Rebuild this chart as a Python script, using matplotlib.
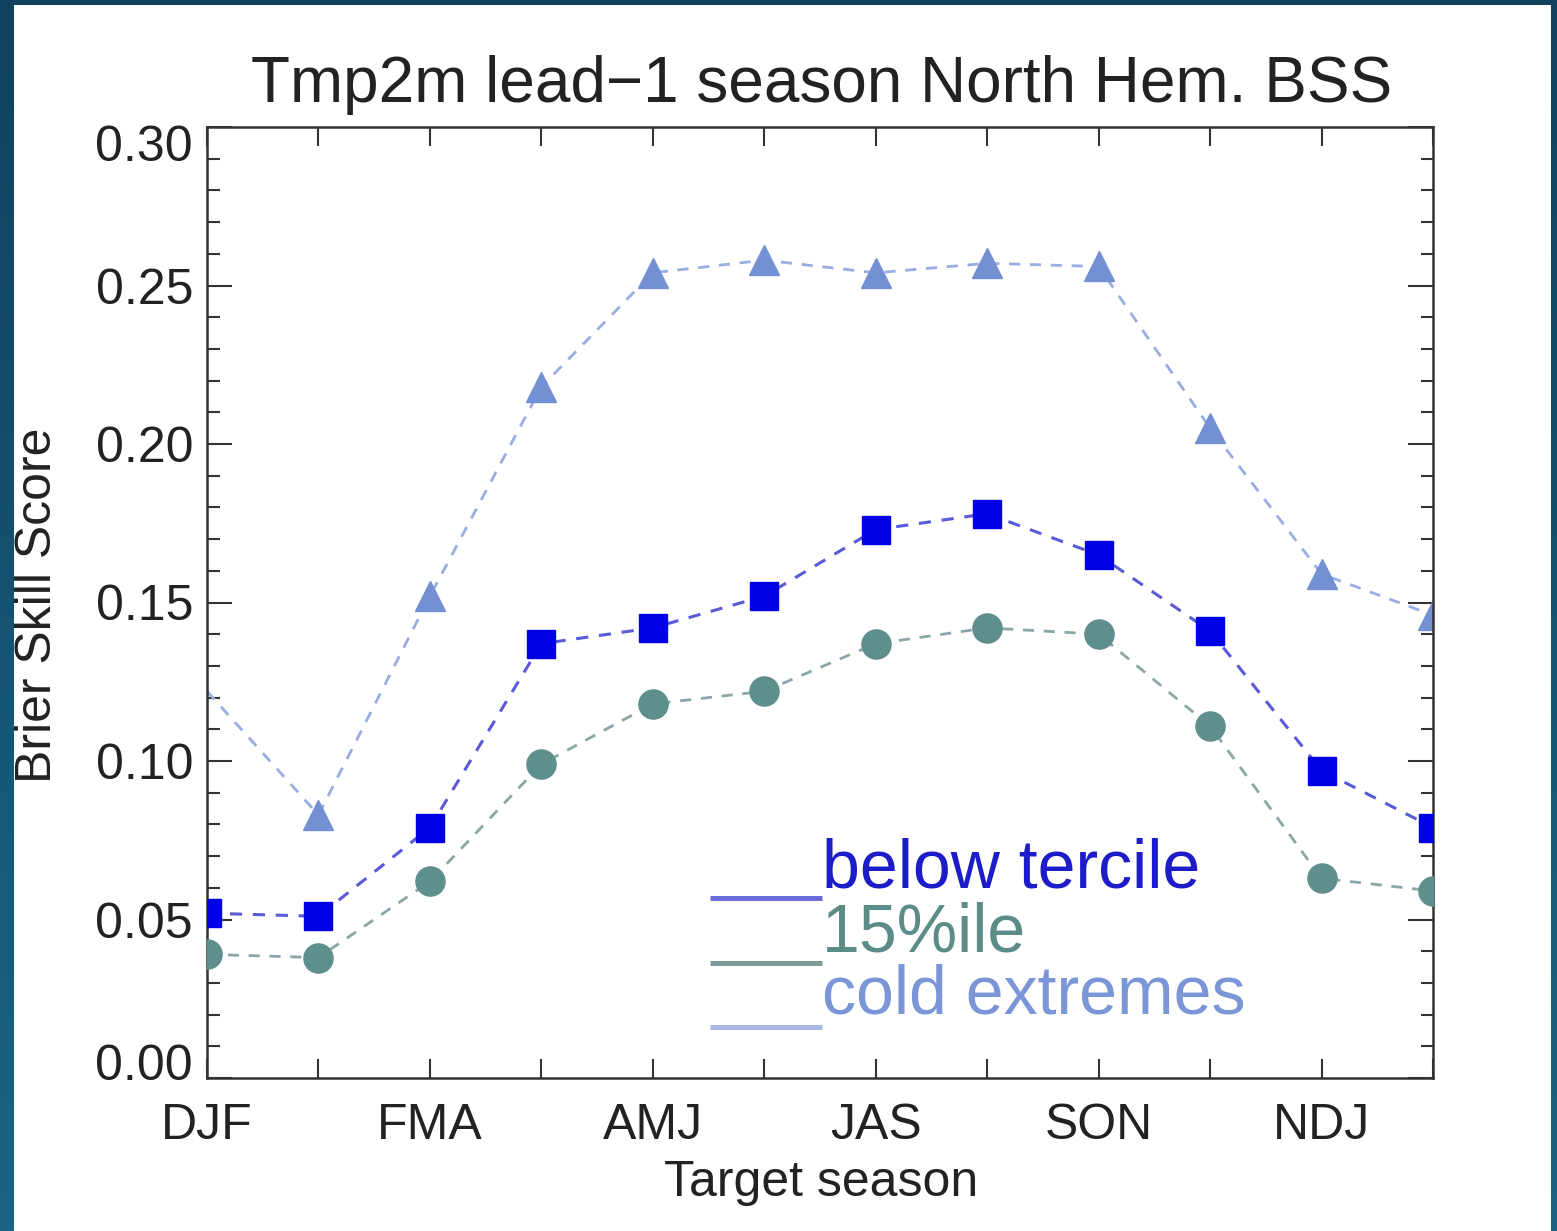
import matplotlib
matplotlib.use("Agg")
import matplotlib.pyplot as plt
import matplotlib.transforms as mtransforms
import numpy as np
from matplotlib.colors import LinearSegmentedColormap
from matplotlib.patches import Rectangle

plt.rcParams['font.family'] = ['Liberation Sans', 'DejaVu Sans']

# ---- data ----
positions = list(range(12))
tick_labels = ["DJF", "", "FMA", "", "AMJ", "", "JAS", "", "SON", "", "NDJ", ""]
below_tercile = [0.052, 0.051, 0.079, 0.137, 0.142, 0.152, 0.173, 0.178, 0.165, 0.141, 0.097, 0.079]
pct15 = [0.039, 0.038, 0.062, 0.099, 0.118, 0.122, 0.137, 0.142, 0.140, 0.111, 0.063, 0.059]
cold_extremes = [0.122, 0.083, 0.152, 0.218, 0.254, 0.258, 0.254, 0.257, 0.256, 0.205, 0.159, 0.146]
series_names = ["below tercile", "15%ile", "cold extremes"]
y_ticks = [0, 0.05, 0.10, 0.15, 0.20, 0.25, 0.30]
y_tick_labels = ["0.00", "0.05", "0.10", "0.15", "0.20", "0.25", "0.30"]

W, H = 1557, 1231
fig = plt.figure(figsize=(W / 100, H / 100), dpi=100)

# background gradient frame
bg = fig.add_axes([0, 0, 1, 1], zorder=-10)
cmap = LinearSegmentedColormap.from_list("bg", ["#0f425e", "#1b6485"])
grad = np.linspace(0, 1, 256).reshape(-1, 1)
bg.imshow(grad, aspect='auto', cmap=cmap, extent=[0, 1, 0, 1], origin='upper')
bg.add_patch(Rectangle((14 / W, 0), (1551 - 14) / W, (H - 5) / H,
                       transform=bg.transAxes, facecolor='white', edgecolor='none'))
bg.set_xlim(0, 1); bg.set_ylim(0, 1)
bg.axis('off')

left, right = 207 / W, 1433 / W
bottom, top = 1 - 1078 / H, 1 - 127 / H
ax = fig.add_axes([left, bottom, right - left, top - bottom])
ax.set_facecolor('white')

ax.plot(positions, pct15, color='#8aa6a6', lw=2.0, dashes=(4, 3.5),
        marker='o', markersize=21, markerfacecolor='#5f8f8d', markeredgecolor='#5f8f8d', zorder=3)
ax.plot(positions, below_tercile, color='#5a5ad8', lw=2.2, dashes=(4, 3.5),
        marker='s', markersize=20, markerfacecolor='#0000e6', markeredgecolor='#0000e6', zorder=4)
ax.plot(positions, cold_extremes, color='#98ade2', lw=2.0, dashes=(4, 3.5),
        marker='^', markersize=21, markerfacecolor='#7290d2', markeredgecolor='#7290d2',
        markevery=list(range(1, 12)), zorder=2)

ax.set_xlim(0, 11)
ax.set_ylim(0, 0.30)
ax.set_xticks(positions)
ax.set_xticklabels(tick_labels)
ax.set_yticks(y_ticks)
ax.set_yticklabels(y_tick_labels)
ax.set_yticks(np.arange(0, 0.301, 0.01), minor=True)

for s in ax.spines.values():
    s.set_linewidth(1.8)
    s.set_color('#333333')
ax.tick_params(axis='both', which='major', direction='in', top=True, right=True,
               length=18, width=1.5, color='#333333', labelsize=36, labelcolor='#222222')
ax.tick_params(axis='y', which='major', pad=10)
ax.tick_params(axis='x', which='major', pad=18, length=14)
ax.tick_params(axis='y', which='minor', direction='in', right=True, length=9, width=1.5, color='#333333')
ax.tick_params(axis='x', which='minor', bottom=False, top=False)

# end labels pulled inward (IDL style)
ylabels = ax.get_yticklabels()
ylabels[0].set_transform(ylabels[0].get_transform() +
                         mtransforms.ScaledTranslation(0, 16 / 100, fig.dpi_scale_trans))
ylabels[-1].set_transform(ylabels[-1].get_transform() +
                          mtransforms.ScaledTranslation(0, -16 / 100, fig.dpi_scale_trans))

fig.text(822 / W, 1 - 102 / H, "Tmp2m lead\u22121 season North Hem. BSS", fontsize=46,
         ha='center', va='baseline', color='#222222')
fig.text(821 / W, 1 - 1196 / H, "Target season", fontsize=36, ha='center', va='baseline', color='#222222')
fig.text(38 / W, 1 - 605 / H, "Brier Skill Score", fontsize=36, rotation=90,
         ha='center', va='center', color='#222222')

# custom legend
leg_line_colors = ['#6a6ad8', '#7f9c9a', '#a8b8e2']
leg_text_colors = ['#1c1cc8', '#5c8c88', '#7a96d6']
line_y = [0.1893, 0.1209, 0.0536]
text_y = [0.1998, 0.1335, 0.0673]
for name, lc, tc, ly, ty in zip(series_names, leg_line_colors, leg_text_colors, line_y, text_y):
    ax.plot([0.410, 0.5016], [ly, ly], transform=ax.transAxes, color=lc, lw=3.6,
            solid_capstyle='butt', zorder=5)
    ax.text(0.5016, ty, name, transform=ax.transAxes, fontsize=49, color=tc,
            ha='left', va='baseline', zorder=5)

fig.savefig("out.png", dpi=100, facecolor=fig.get_facecolor())
